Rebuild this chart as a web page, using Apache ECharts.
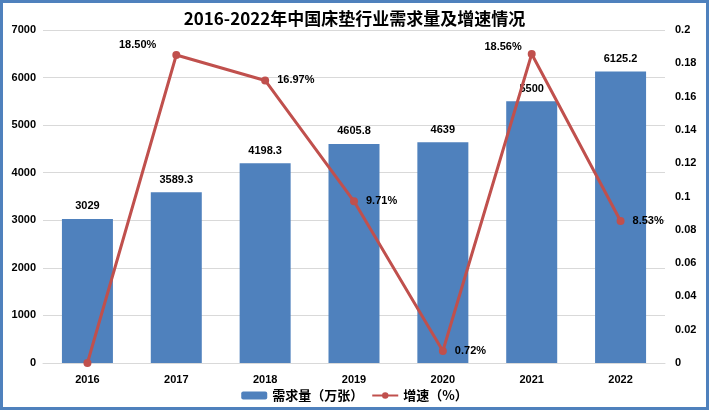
<!DOCTYPE html>
<html><head><meta charset="utf-8">
<script src="https://cdn.jsdelivr.net/npm/echarts@6/dist/echarts.min.js"></script>
<style>html,body{margin:0;padding:0;background:#fff}#c{width:709px;height:410px;box-sizing:border-box;border:3px solid #4f81bd}</style>
</head><body><div id="c"></div>
<script>
const years = ['2016','2017','2018','2019','2020','2021','2022'];
const demand = [3029, 3589.3, 4198.3, 4605.8, 4639, 5500, 6125.2];
const growth = [0, 0.185, 0.1697, 0.0971, 0.0072, 0.1856, 0.0853];
const growthLabels = ['', '18.50%', '16.97%', '9.71%', '0.72%', '18.56%', '8.53%'];
const labelPos = ['right', 'left', 'right', 'right', 'right', 'left', 'right'];
const labelOffsets = [[0,0], [-8,-10], [0,0], [0,0], [0,0], [2,-7], [0,0]];
const font = 'Noto Sans CJK SC, sans-serif';
const chart = echarts.init(document.getElementById('c'));
chart.setOption({
  animation: false,
  title: { text: '2016-2022年中国床垫行业需求量及增速情况', left: 'center', top: 2,
    textStyle: { fontFamily: font, fontSize: 17, fontWeight: 'bold', color: '#000' } },
  grid: { left: 40, right: 41, top: 27, bottom: 44, containLabel: false, outerBoundsMode: 'none' },
  legend: { bottom: 0, left: 'center', itemWidth: 26, itemHeight: 8, itemGap: 8,
    textStyle: { fontFamily: font, fontSize: 13, fontWeight: 'bold', color: '#000' },
    data: ['需求量（万张）', '增速（%）'] },
  xAxis: { type: 'category', data: years,
    axisLine: { lineStyle: { color: '#d9d9d9' } }, axisTick: { show: false },
    axisLabel: { color: '#000', fontWeight: 'bold', fontSize: 11, fontFamily: 'Liberation Sans', margin: 11 } },
  yAxis: [
    { type: 'value', min: 0, max: 7000, interval: 1000,
      splitLine: { lineStyle: { color: '#d9d9d9' } },
      axisLabel: { color: '#000', fontWeight: 'bold', fontSize: 11, fontFamily: 'Liberation Sans', margin: 7,
        formatter: v => String(v) } },
    { type: 'value', min: 0, max: 0.2, interval: 0.02,
      splitLine: { show: false },
      axisLabel: { color: '#000', fontWeight: 'bold', fontSize: 11, fontFamily: 'Liberation Sans', margin: 10,
        formatter: v => String(Math.round(v * 100) / 100) } }
  ],
  series: [
    { name: '需求量（万张）', type: 'bar', data: demand, barWidth: 51,
      itemStyle: { color: '#4f81bd' },
      label: { show: true, position: 'top', distance: 7, color: '#000', fontSize: 11, fontWeight: 'bold', fontFamily: 'Liberation Sans' } },
    { name: '增速（%）', type: 'line', yAxisIndex: 1,
      data: growth.map((v, i) => ({ value: v, label: { show: !!growthLabels[i], position: labelPos[i], distance: 8,
        offset: labelOffsets[i],
        formatter: () => growthLabels[i] } })),
      symbol: 'circle', symbolSize: 8,
      lineStyle: { color: '#c0504d', width: 3 }, itemStyle: { color: '#c0504d' },
      label: { color: '#000', fontSize: 11, fontWeight: 'bold', fontFamily: 'Liberation Sans' } }
  ]
});
</script></body></html>
